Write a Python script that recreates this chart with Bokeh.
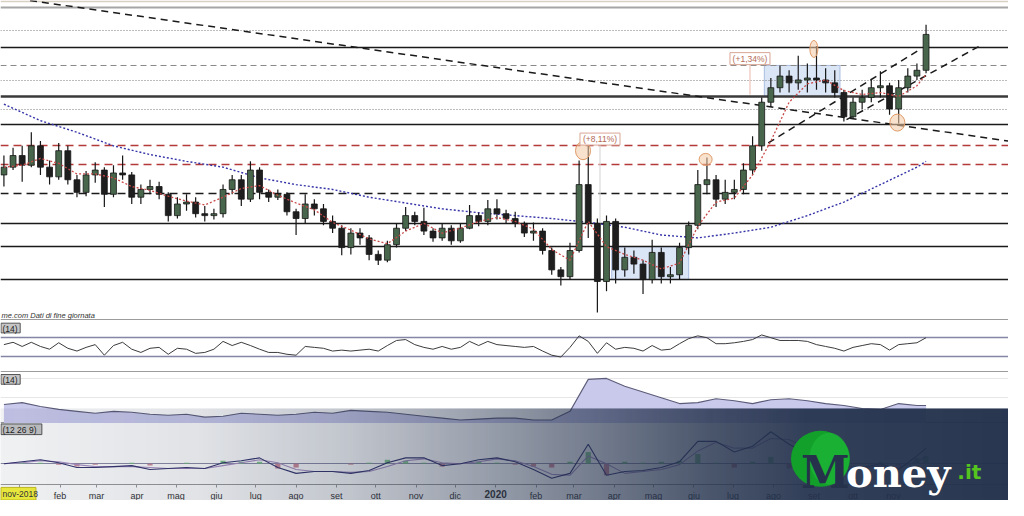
import numpy as np
import pandas as pd
from bokeh.plotting import figure
from bokeh.models import Range1d, LinearAxis, FixedTicker, ColumnDataSource
from bokeh.core.properties import value
from bokeh.embed import file_html
from bokeh.resources import INLINE

# ------------------------------------------------------------------ data
week_dates = pd.date_range("2018-12-20", periods=102, freq="7D")

open_ = [150, 158, 170, 160, 180, 158, 148, 175, 145, 132,
         150, 155, 130, 152, 150, 127, 135, 138, 130, 108,
         120, 122, 110, 108, 110, 135, 145, 125, 155, 132,
         127, 130, 112, 105, 120, 115, 102, 95, 75, 90,
         85, 68, 62, 78, 95, 108, 102, 92, 85, 95,
         82, 95, 108, 102, 115, 110, 105, 100, 90, 92,
         72, 52, 45, 72, 140, 100, 40, 102, 52, 65,
         58, 42, 70, 45, 47, 75, 98, 140, 145, 125,
         132, 135, 155, 180, 225, 240, 252, 245, 248, 250,
         248, 245, 235, 210, 225, 230, 240, 242, 218, 240,
         252, 258]
close = [158, 170, 160, 180, 158, 148, 175, 145, 132, 150,
         155, 130, 152, 150, 127, 135, 138, 130, 108, 120,
         122, 110, 108, 110, 135, 145, 125, 155, 132, 127,
         130, 112, 105, 120, 115, 102, 95, 75, 90, 85,
         68, 62, 78, 95, 108, 102, 92, 85, 95, 82,
         95, 108, 102, 115, 110, 105, 100, 90, 92, 72,
         52, 45, 72, 140, 100, 40, 102, 52, 65, 58,
         42, 70, 45, 47, 75, 98, 140, 145, 125, 132,
         135, 155, 180, 225, 240, 252, 245, 248, 250, 248,
         245, 235, 210, 225, 230, 240, 242, 218, 240, 252,
         258, 295]
high = [170, 178, 180, 194, 185, 165, 183, 180, 150, 154,
        163, 158, 160, 170, 153, 140, 145, 143, 132, 127,
        130, 127, 118, 115, 140, 150, 150, 164, 158, 135,
        135, 132, 115, 130, 125, 120, 108, 98, 95, 95,
        88, 72, 82, 100, 117, 112, 116, 95, 100, 98,
        100, 119, 111, 124, 125, 114, 112, 102, 101, 95,
        75, 55, 80, 165, 180, 105, 108, 105, 75, 72,
        62, 83, 75, 55, 80, 102, 155, 168, 150, 145,
        145, 162, 190, 230, 250, 263, 258, 273, 265, 283,
        260, 258, 238, 230, 238, 248, 257, 245, 248, 260,
        265, 305]
low = [138, 155, 143, 158, 150, 140, 145, 140, 127, 128,
       142, 117, 127, 145, 120, 120, 130, 125, 102, 105,
       113, 106, 102, 104, 106, 130, 118, 122, 125, 122,
       124, 108, 88, 100, 108, 98, 90, 67, 68, 78,
       62, 57, 60, 75, 92, 98, 88, 81, 82, 78,
       80, 94, 97, 98, 104, 100, 96, 86, 82, 68,
       47, 36, 42, 70, 85, 8, 30, 38, 45, 48,
       27, 38, 38, 38, 42, 68, 94, 130, 117, 120,
       125, 130, 150, 175, 220, 235, 235, 238, 235, 238,
       235, 230, 205, 208, 218, 225, 230, 212, 203, 235,
       248, 255]

fortnight_dates = list(week_dates[0:101:2]) + [week_dates[101]]
fourweek_dates = list(week_dates[0:101:4]) + [week_dates[101]]

ma_fast = [158, 160, 167, 162, 151, 151, 147, 138, 134, 128,
           123, 119, 127, 136, 139, 129, 121, 114, 101, 93,
           84, 79, 92, 100, 90, 95, 102, 106, 102, 94,
           73, 62, 102, 76, 68, 62, 53, 59, 97, 122,
           126, 150, 185, 225, 244, 248, 237, 233, 235, 231,
           242, 254]
ma_slow = [223, 206, 194, 180, 171, 164, 158, 147, 140, 135,
           127, 121, 115, 111, 108, 105, 101, 96, 88, 85,
           90, 96, 108, 122, 140, 158, 164]

rsi = [55, 60, 51, 60, 51, 45, 59, 47, 41, 49,
       55, 32, 53, 60, 45, 38, 47, 49, 34, 47,
       45, 36, 38, 45, 62, 53, 60, 53, 45, 38,
       38, 34, 32, 51, 49, 47, 41, 43, 41, 43,
       45, 41, 53, 64, 66, 55, 49, 45, 51, 45,
       49, 62, 53, 62, 55, 53, 51, 49, 51, 41,
       32, 28, 49, 74, 62, 36, 59, 45, 49, 47,
       41, 53, 43, 45, 57, 68, 74, 70, 57, 57,
       59, 62, 66, 76, 70, 64, 64, 64, 62, 55,
       51, 47, 41, 49, 53, 57, 55, 43, 55, 57,
       59, 70]

adx = [19, 21, 17, 14, 12, 10, 12, 11, 9, 8,
       9, 6, 7, 10, 9, 8, 9, 11, 10, 13,
       12, 11, 9, 7, 5, 3, 4, 5, 5, 3,
       3, 12, 45, 46, 38, 32, 26, 20, 21, 25,
       23, 20, 24, 25, 23, 20, 18, 15, 14, 20,
       18, 18]

macd = [0.0, 0.2, 0.4, 0.1, -0.4, -0.4, -0.3, -0.2, -0.6, -0.5,
        -0.4, -0.5, 0.1, 0.3, 0.6, -0.4, -1.0, -0.8, -0.8, -1.0,
        -0.7, 0.1, 0.6, 0.6, -0.2, 0.0, 0.4, 0.6, 0.2, -0.6,
        -1.5, -1.0, 2.0, -1.2, -0.8, -0.7, -0.4, 0.2, 2.3, 2.3,
        1.2, 1.8, 3.3, 2.0, 1.0, 0.4, -0.8, -0.4, 0.0, -0.6,
        0.8, 1.6]
macd_signal = [0.0, 0.1, 0.3, 0.2, -0.1, -0.3, -0.3, -0.3, -0.4, -0.5,
               -0.5, -0.5, -0.2, 0.1, 0.4, 0.1, -0.6, -0.8, -0.8, -0.9,
               -0.8, -0.3, 0.3, 0.5, 0.1, 0.0, 0.2, 0.5, 0.3, -0.3,
               -1.1, -1.2, 0.8, 0.0, -1.0, -0.8, -0.6, -0.1, 1.3, 2.2,
               1.6, 1.6, 2.6, 2.5, 1.6, 0.8, -0.2, -0.5, -0.2, -0.4,
               0.2, 0.8]
macd_hist = [0.0, 0.1, 0.1, -0.1, -0.3, -0.1, 0.0, 0.1, -0.2, 0.0,
             0.1, 0.0, 0.3, 0.2, 0.2, -0.5, -0.4, 0.0, 0.0, -0.1,
             0.1, 0.4, 0.3, 0.1, -0.3, 0.0, 0.2, 0.1, -0.1, -0.3,
             -0.4, 0.2, 1.2, -1.2, 0.2, 0.1, 0.2, 0.3, 1.0, 0.1,
             -0.4, 0.2, 0.7, -0.5, -0.6, -0.4, -0.6, 0.1, 0.2, -0.2,
             0.6, 0.8]

level_solid = [282, 202, 100, 76, 42]
level_major = [231]
level_dotted = [299, 247, 218]
level_dashed_grey = [263]
level_red = [180, 161]
level_black_dashed = [131]

trend_start_dates = ["2019-01-09", "2020-07-28", "2020-09-26"]
trend_start_prices = [330, 183, 207]
trend_end_dates = ["2021-01-28", "2020-11-22", "2021-01-06"]
trend_end_prices = [185, 280, 283]

box_start = ["2020-03-30", "2020-07-25"]
box_end = ["2020-05-28", "2020-09-21"]
box_low = [42, 231]
box_high = [76, 263]

highlight_dates = ["2020-03-08", "2020-06-10", "2020-09-01", "2020-11-04"]
highlight_prices = [175, 166, 280, 204]

perf_dates = ["2020-03-21", "2020-07-14"]
perf_prices = [187, 270]
perf_text = ["(+8,11%)", "(+1,34%)"]
measure_top = [181, 264]
measure_bottom = [97, 233]

tick_dates = pd.date_range("2019-01-01", "2020-11-01", freq="MS")
tick_labels = ["", "feb", "mar", "apr", "mag", "giu", "lug", "ago", "set", "ott", "nov", "dic",
               "2020", "feb", "mar", "apr", "mag", "giu", "lug", "ago", "set", "ott", "nov"]

# ------------------------------------------------------------------ layout
REF_W, REF_H = 1024, 516
W, H = 1008, 500
PX_PER_DAY = 1.325
ORIGIN = pd.Timestamp("2020-01-01")
X_ORIGIN_PX = 503
x_start = ORIGIN - pd.Timedelta(days=X_ORIGIN_PX / PX_PER_DAY)
x_end = ORIGIN + pd.Timedelta(days=(REF_W - X_ORIGIN_PX) / PX_PER_DAY)
DAY_MS = 86400000.0
BANNER_TOP = 421


def band(v_a, y_a, v_b, y_b):
    k = (v_a - v_b) / (y_b - y_a)
    return Range1d(start=v_b - (REF_H - y_b) * k, end=v_a + y_a * k)


def ms(d):
    return float(pd.Timestamp(d).value // 10**6)


SANS = value("Liberation Sans")

p = figure(width=W, height=H,
           x_range=Range1d(x_start.to_pydatetime(), x_end.to_pydatetime()),
           y_range=Range1d(REF_H, 0),
           output_backend="svg", toolbar_location=None, min_border=0,
           x_axis_location=None, y_axis_location=None,
           outline_line_color=None, background_fill_color="white",
           border_fill_color="white")
p.xgrid.visible = False
p.ygrid.visible = False
p.extra_x_ranges = {"px": Range1d(0, REF_W)}
p.extra_y_ranges = {
    "price": band(299, 31, 42, 288),
    "rsi": band(70, 348, 30, 367),
    "adx": band(46, 390, 0, 436),
    "macd": band(0, 478, -2, 498),
}

# panel frame lines
p.quad(left=[0], right=[REF_W], top=[0], bottom=[1.8], x_range_name="px",
       fill_color="#d9d0c4", line_color=None)
p.hspan(y=[7], line_color="#a5a5a5", line_width=2)
p.hspan(y=[329, 383, 435], line_color="#9c9c9c", line_width=1.2)

# ---- price panel
p.quad(left=pd.to_datetime(box_start), right=pd.to_datetime(box_end),
       bottom=box_low, top=box_high, y_range_name="price",
       fill_color="#d3e0f4", fill_alpha=0.85, line_color="#a9bde0", line_width=1)

p.hspan(y=level_dotted, y_range_name="price", line_color="#7a7a7a", line_dash="1 2", line_width=1)
p.hspan(y=level_dashed_grey, y_range_name="price", line_color="#8a8a8a", line_dash="6 4", line_width=1.2)
p.hspan(y=level_solid, y_range_name="price", line_color="#1a1a1a", line_width=1.4)
p.hspan(y=level_major, y_range_name="price", line_color="#3a3a3a", line_width=2.4)
p.hspan(y=level_red, y_range_name="price", line_color="#b43a3a", line_dash="8 5", line_width=1.6)
p.hspan(y=level_black_dashed, y_range_name="price", line_color="#1a1a1a", line_dash="8 5", line_width=1.6)

p.segment(x0=pd.to_datetime(perf_dates), y0=measure_top, x1=pd.to_datetime(perf_dates),
          y1=measure_bottom, y_range_name="price", line_color=["#dadada", "#efc2b8"], line_width=1.2)

p.segment(x0=pd.to_datetime(trend_start_dates), y0=trend_start_prices,
          x1=pd.to_datetime(trend_end_dates), y1=trend_end_prices,
          y_range_name="price", line_color="#1a1a1a", line_dash="7 5", line_width=1.5)

p.line(fourweek_dates, ma_slow, y_range_name="price", line_color="#3434a8",
       line_dash="2 2", line_width=1.4)

colors = ["#48664b" if c >= o else "#1e1e1e" for o, c in zip(open_, close)]
src = ColumnDataSource(dict(date=week_dates, o=open_, h=high, l=low, c=close, col=colors))
p.segment(x0="date", y0="h", x1="date", y1="l", source=src, y_range_name="price",
          line_color="#161616", line_width=1.2)
p.vbar(x="date", width=4.5 * DAY_MS, top="c", bottom="o", source=src, y_range_name="price",
       fill_color="col", line_color="#161616", line_width=0.8)

p.line(fortnight_dates, ma_fast, y_range_name="price", line_color="#c84848",
       line_dash="2 2", line_width=1.3)

p.ellipse(x=pd.to_datetime(highlight_dates), y=highlight_prices,
          width=[15, 13, 8, 15], height=[18, 12, 17, 17],
          width_units="screen", height_units="screen", y_range_name="price",
          fill_color="#f2c8a4", fill_alpha=0.55, line_color="#e09a66", line_width=1)

p.rect(x=pd.to_datetime(perf_dates), y=perf_prices, width=40, height=12,
       width_units="screen", height_units="screen", y_range_name="price",
       fill_color="white", fill_alpha=0.9, line_color="#d9a595", line_width=1)
p.text(x=pd.to_datetime(perf_dates), y=perf_prices, text=perf_text, y_range_name="price",
       text_align="center", text_baseline="middle", text_font=SANS,
       text_font_size="8.5px", text_color="#b36a55")

p.text(x=[1], y=[325], text=["me.com  Dati di fine giornata"], x_range_name="px",
       text_align="left", text_baseline="middle", text_font=SANS,
       text_font_size="7.5px", text_font_style="italic", text_color="#333333")

# ---- RSI panel
p.hspan(y=[70, 30], y_range_name="rsi", line_color="#8585a8", line_width=1.4)
p.line(week_dates, rsi, y_range_name="rsi", line_color="#3c3c3c", line_width=1)

# ---- ADX panel
p.hspan(y=[46, 26], y_range_name="adx", line_color="#e6e6e6", line_width=1)
p.varea(x=fortnight_dates, y1=0, y2=adx, y_range_name="adx", fill_color="#c9c9ec")
p.line(fortnight_dates, adx, y_range_name="adx", line_color="#5c5c7a", line_width=1.1)

# ---- MACD panel
p.hspan(y=[0], y_range_name="macd", line_color="#8c8ca8", line_width=1)
hist_colors = ["#6fbf78" if v >= 0 else "#c9788a" for v in macd_hist]
p.vbar(x=fortnight_dates, width=4 * DAY_MS, top=macd_hist, bottom=0, y_range_name="macd",
       fill_color=hist_colors, line_color=None, fill_alpha=0.85)
p.line(fortnight_dates, macd_signal, y_range_name="macd", line_color="#a890c4", line_width=1.1)
p.line(fortnight_dates, macd, y_range_name="macd", line_color="#33336e", line_width=1.1)

# panel labels
p.quad(left=[0.5, 0.5, 0.5], right=[20, 20, 42], top=[333, 386, 437], bottom=[343, 396, 448],
       x_range_name="px", fill_color="#c6c6c6", line_color="#555555", line_width=1)
p.text(x=[2, 2, 2], y=[338.5, 391.5, 443], text=["(14)", "(14)", "(12 26 9)"],
       x_range_name="px", text_align="left", text_baseline="middle", text_font=SANS,
       text_font_size="8.5px", text_color="#222222")

# ---- x axis (inside the frame)
tick_ms = [ms(d) for d in tick_dates]
main_ticks = [t for t, lab in zip(tick_ms, tick_labels) if lab != "2020"]
year_ticks = [t for t, lab in zip(tick_ms, tick_labels) if lab == "2020"]
ax = LinearAxis(fixed_location=500, ticker=FixedTicker(ticks=main_ticks),
                major_label_overrides={t: lab for t, lab in zip(tick_ms, tick_labels) if lab != "2020"},
                axis_line_color="#9a9a9a", major_tick_line_color="#9a9a9a",
                major_tick_in=0, major_tick_out=3, minor_tick_line_color=None,
                major_label_text_font="Liberation Sans", major_label_text_font_size="9px",
                major_label_text_color="#333333", major_label_standoff=3)
p.add_layout(ax, "below")
ax2 = LinearAxis(fixed_location=500, ticker=FixedTicker(ticks=year_ticks),
                 major_label_overrides={year_ticks[0]: "2020"},
                 axis_line_color=None, major_tick_line_color="#9a9a9a",
                 major_tick_in=0, major_tick_out=3, minor_tick_line_color=None,
                 major_label_text_font="Liberation Sans", major_label_text_font_size="10px",
                 major_label_text_font_style="bold",
                 major_label_text_color="#333333", major_label_standoff=2)
p.add_layout(ax2, "below")

# yellow start label
p.quad(left=[0.5], right=[36], top=[502.5], bottom=[515.5], x_range_name="px",
       fill_color="#f7f53c", line_color="#c9c21a", line_width=1, level="overlay")
p.text(x=[2], y=[509.5], text=["nov-2018"], x_range_name="px", level="overlay",
       text_align="left", text_baseline="middle", text_font=SANS,
       text_font_size="8.5px", text_color="#333333")

# ---- watermark banner: smooth horizontal gradient as an RGBA image
GRAD_COLS = 1024
col_x = np.arange(GRAD_COLS) + 0.5
stop_x = [0, 200, 350, 500, 620, 720, 820, 1024]
stop_a = [0.07, 0.14, 0.28, 0.48, 0.66, 0.82, 0.93, 0.97]
col_a = np.interp(col_x, stop_x, stop_a)
grad = np.zeros((2, GRAD_COLS), dtype=np.uint32)
view = grad.view(dtype=np.uint8).reshape((2, GRAD_COLS, 4))
view[:, :, 0] = 34
view[:, :, 1] = 48
view[:, :, 2] = 75
view[:, :, 3] = (col_a * 255).astype(np.uint8)[None, :]
p.image_rgba(image=[grad], x=0, y=BANNER_TOP, dw=REF_W, dh=REF_H - BANNER_TOP,
             x_range_name="px", level="overlay")

p.ellipse(x=[833], y=[473], width=59, height=56, width_units="screen", height_units="screen",
          x_range_name="px", fill_color="#12a02a", line_color=None, level="overlay")
p.ellipse(x=[842], y=[473], width=40, height=52, width_units="screen", height_units="screen",
          x_range_name="px", fill_color="#22c03c", fill_alpha=0.5, line_color=None, level="overlay")
p.text(x=[838], y=[487], text=["M"], x_range_name="px", level="overlay",
       text_align="center", text_baseline="alphabetic", text_font=value("DejaVu Serif"),
       text_font_size="44px", text_font_style="bold", text_color="#26324b")
p.text(x=[859], y=[487], text=["oney"], x_range_name="px", level="overlay",
       text_align="left", text_baseline="alphabetic", text_font=value("DejaVu Serif"),
       text_font_size="40px", text_font_style="bold", text_color="white")
p.text(x=[972], y=[487], text=[".it"], x_range_name="px", level="overlay",
       text_align="left", text_baseline="alphabetic", text_font=value("DejaVu Sans"),
       text_font_size="20px", text_font_style="bold", text_color="#55c41f")

open("out.html", "w").write(file_html(p, INLINE))
